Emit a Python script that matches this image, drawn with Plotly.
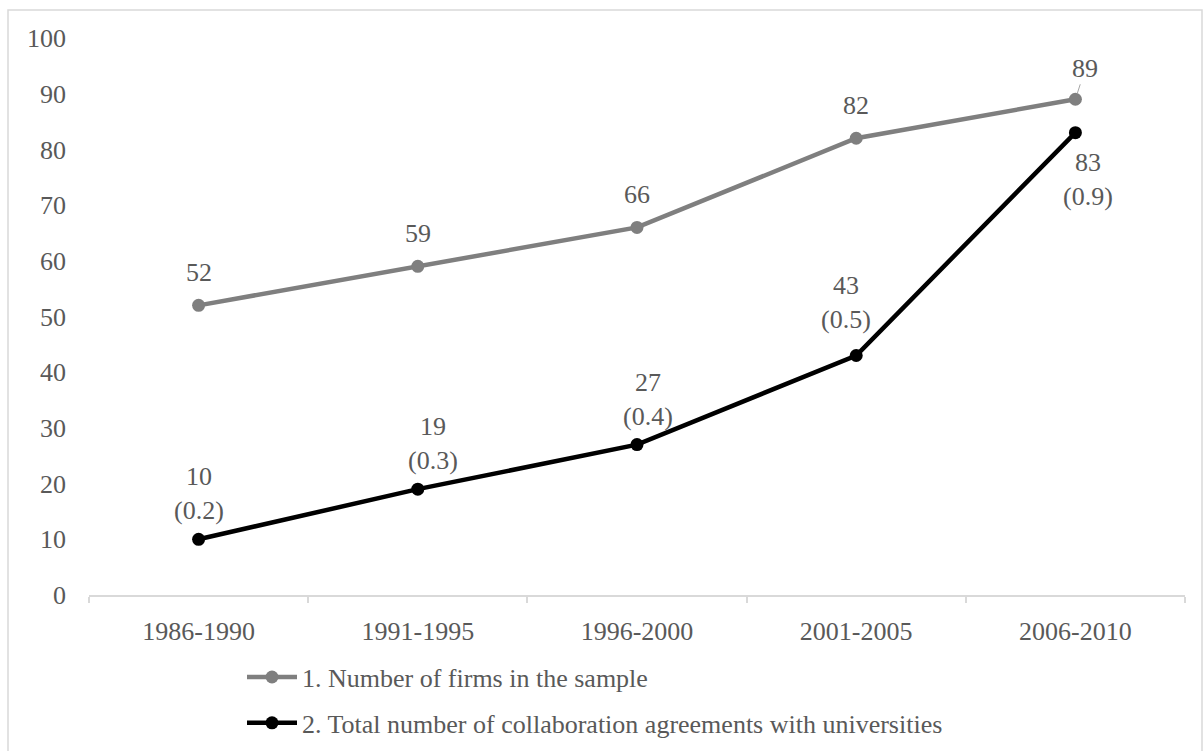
import plotly.graph_objects as go

periods = ["1986-1990", "1991-1995", "1996-2000", "2001-2005", "2006-2010"]
firms = [52, 59, 66, 82, 89]
agreements = [10, 19, 27, 43, 83]
ratios = [0.2, 0.3, 0.4, 0.5, 0.9]
yticks = [0, 10, 20, 30, 40, 50, 60, 70, 80, 90, 100]

name1 = "1. Number of firms in the sample"
name2 = "2. Total number of collaboration agreements with universities"

# label nudges (pixels), styling only
agr_dx = [0, 15, 11, -10, 13]
agr_dy = [0, 0, 0, 7, 0]

FONT = "Liberation Serif, Times New Roman, serif"
TXT = "#595959"
FS = 26

fig = go.Figure()
fig.add_trace(go.Scatter(x=periods, y=firms, mode="lines+markers", name=name1,
                         legendgroup="a",
                         line=dict(color="#7f7f7f", width=4.5),
                         marker=dict(color="#7f7f7f", size=13)))
fig.add_trace(go.Scatter(x=periods, y=agreements, mode="lines+markers", name=name2,
                         legendgroup="b",
                         line=dict(color="#000000", width=4.5),
                         marker=dict(color="#000000", size=13)))

ann = []
n = len(periods)
for i, (p, v) in enumerate(zip(periods, firms)):
    if i == n - 1:
        ann.append(dict(x=p, y=v, xref="x", yref="y", text=str(v), showarrow=True,
                        arrowhead=0, arrowwidth=1, arrowcolor="#a6a6a6",
                        ax=10, ay=-31, standoff=6,
                        font=dict(family=FONT, size=FS, color=TXT)))
    else:
        ann.append(dict(x=p, y=v, xref="x", yref="y", text=str(v), showarrow=False,
                        yanchor="bottom", yshift=16,
                        font=dict(family=FONT, size=FS, color=TXT)))
for i, (p, v, r) in enumerate(zip(periods, agreements, ratios)):
    t = f"{v}<br>({r})"
    if i == n - 1:
        ann.append(dict(x=p, y=v, xref="x", yref="y", text=t, showarrow=False,
                        yanchor="top", yshift=-13, xshift=agr_dx[i],
                        font=dict(family=FONT, size=FS, color=TXT)))
    else:
        ann.append(dict(x=p, y=v, xref="x", yref="y", text=t, showarrow=False,
                        yanchor="bottom", yshift=12 + agr_dy[i], xshift=agr_dx[i],
                        font=dict(family=FONT, size=FS, color=TXT)))

L, R, T, B = 89, 18, 38, 156
W, H = 1203, 751
pw, ph = W - L - R, H - T - B

fig.update_layout(
    width=W, height=H,
    margin=dict(l=L, r=R, t=T, b=B, autoexpand=False),
    paper_bgcolor="white", plot_bgcolor="white",
    font=dict(family=FONT, size=FS, color=TXT),
    annotations=ann,
    showlegend=True,
    legend=dict(orientation="v", x=0.1396, xanchor="left", y=-0.1052, yanchor="top",
                font=dict(family=FONT, size=FS, color=TXT), tracegroupgap=9,
                traceorder="grouped",
                itemwidth=50, bgcolor="rgba(0,0,0,0)"),
    xaxis=dict(type="category", range=[-0.5, 4.5], showgrid=False, showline=True,
               linecolor="#d9d9d9", linewidth=1.5, ticks="outside", tickson="boundaries",
               ticklen=6, tickcolor="#d9d9d9", tickwidth=1.5, zeroline=False,
               tickfont=dict(family=FONT, size=FS, color=TXT), ticklabelstandoff=12),
    yaxis=dict(range=[0, 100], tickvals=yticks, showgrid=False, showline=False,
               zeroline=False, ticks="", ticklabelstandoff=22,
               tickfont=dict(family=FONT, size=FS, color=TXT)),
    shapes=[dict(type="rect", xref="paper", yref="paper",
                 x0=(8 - L) / pw, x1=(1202 - L) / pw,
                 y0=-0.5, y1=1 + (T - 10) / ph,
                 line=dict(color="#d9d9d9", width=1.5), fillcolor="rgba(0,0,0,0)",
                 layer="below")],
)

fig.write_html("out.html")
